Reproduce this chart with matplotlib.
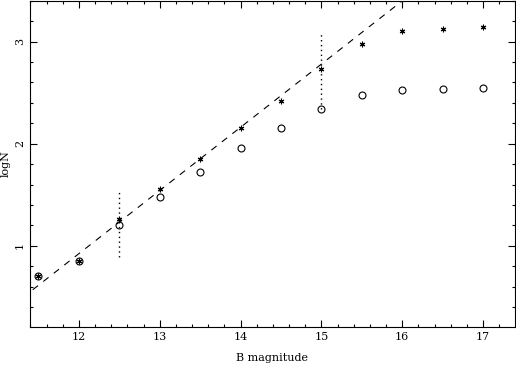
import matplotlib
matplotlib.use('Agg')
import matplotlib.pyplot as plt
from matplotlib.ticker import MultipleLocator

bmag = [11.5, 12.0, 12.5, 13.0, 13.5, 14.0, 14.5, 15.0, 15.5, 16.0, 16.5, 17.0]
logn_circ = [0.70, 0.85, 1.20, 1.48, 1.72, 1.96, 2.15, 2.34, 2.48, 2.53, 2.54, 2.55]
logn_star = [0.70, 0.85, 1.26, 1.56, 1.855, 2.15, 2.42, 2.73, 2.98, 3.10, 3.12, 3.14]

# dashed reference line (endpoints)
line_x = [11.3, 16.1]
line_y = [0.49, 3.46]

# dotted vertical bars
bar_x = [12.5, 15.0]
bar_lo = [0.89, 2.34]
bar_hi = [1.55, 3.07]

plt.rcParams['font.family'] = ['DejaVu Serif']

fig = plt.figure(figsize=(5.16, 3.65), dpi=100)
ax = plt.axes([0.058, 0.104, 0.940, 0.894])

ax.plot(line_x, line_y, color='k', lw=0.8, dashes=(6, 6))
for x, lo, hi in zip(bar_x, bar_lo, bar_hi):
    ax.plot([x, x], [lo, hi], color='k', lw=1.0, linestyle=(0, (1, 2.5)))
ax.plot(bmag, logn_circ, 'o', ms=5, mfc='none', mec='k', mew=0.8)
ax.plot(bmag, logn_star, marker=(6, 2, 0), ls='none', ms=4, color='k', mew=0.8)

ax.set_xlim(11.395, 17.395)
ax.set_ylim(0.205, 3.40)
ax.xaxis.set_major_locator(MultipleLocator(1))
ax.xaxis.set_minor_locator(MultipleLocator(0.2))
ax.yaxis.set_major_locator(MultipleLocator(1))
ax.yaxis.set_minor_locator(MultipleLocator(0.2))
ax.tick_params(which='both', direction='in', top=True, right=True, width=0.8, labelsize=8)
ax.tick_params(which='major', length=5)
ax.tick_params(which='minor', length=2.5)
for lab in ax.get_yticklabels():
    lab.set_rotation(90)
    lab.set_va('center')
for s in ax.spines.values():
    s.set_linewidth(0.8)

ax.set_xlabel('B magnitude', fontsize=8, labelpad=8)
ax.set_ylabel('logN', fontsize=8, va='center')
ax.yaxis.set_label_coords(-0.05, 0.5)

plt.savefig('out.png', dpi=100)
